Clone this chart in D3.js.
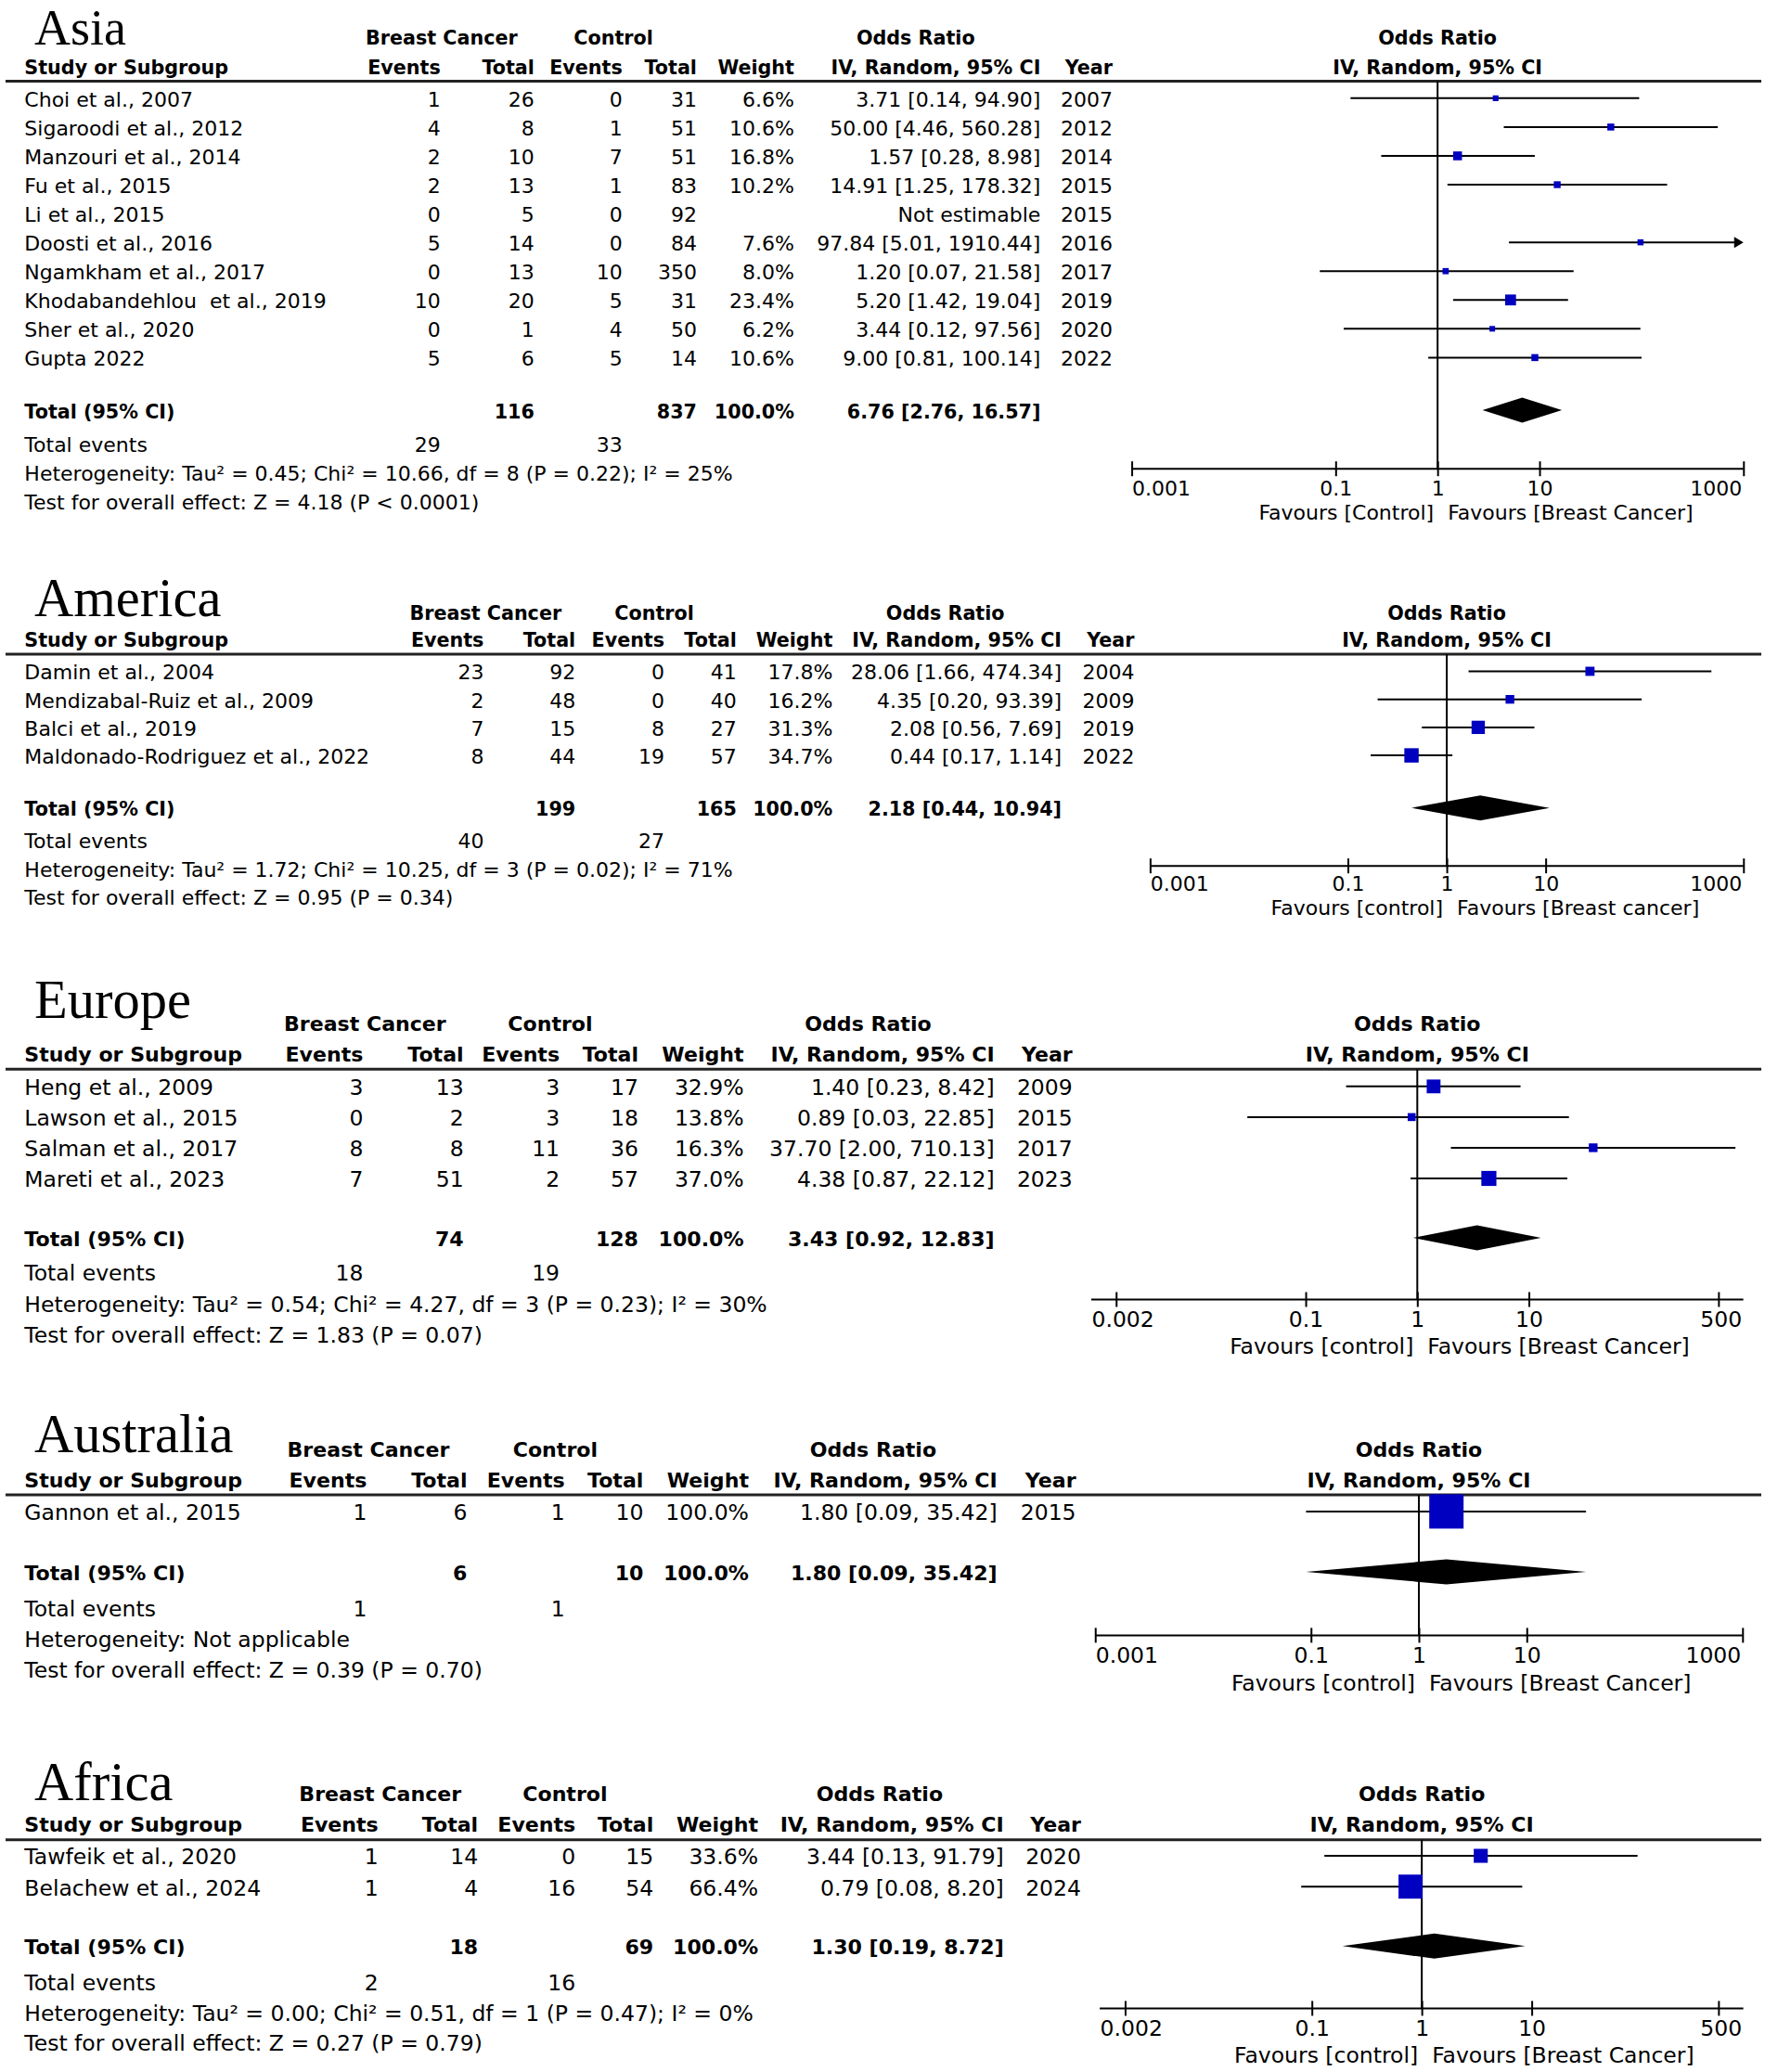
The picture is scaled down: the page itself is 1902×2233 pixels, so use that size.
<!DOCTYPE html>
<html>
<head>
<meta charset="utf-8">
<script src="https://cdn.jsdelivr.net/npm/d3@7"></script>
<style>
  body { margin: 0; background: #fff; }
  svg { display: block; }
  text { font-family: "DejaVu Sans", sans-serif; fill: #000; white-space: pre; }
  .title { font-family: "Liberation Serif", serif; }
</style>
</head>
<body>
<script>
// ---- data: [study, bc events, bc total, ctrl events, ctrl total, weight %, OR, lower, upper, year]
const asiaRows = [
  ["Choi et al., 2007", 1, 26, 0, 31, 6.6, 3.71, 0.14, 94.90, 2007],
  ["Sigaroodi et al., 2012", 4, 8, 1, 51, 10.6, 50.00, 4.46, 560.28, 2012],
  ["Manzouri et al., 2014", 2, 10, 7, 51, 16.8, 1.57, 0.28, 8.98, 2014],
  ["Fu et al., 2015", 2, 13, 1, 83, 10.2, 14.91, 1.25, 178.32, 2015],
  ["Li et al., 2015", 0, 5, 0, 92, null, null, null, null, 2015],
  ["Doosti et al., 2016", 5, 14, 0, 84, 7.6, 97.84, 5.01, 1910.44, 2016],
  ["Ngamkham et al., 2017", 0, 13, 10, 350, 8.0, 1.20, 0.07, 21.58, 2017],
  ["Khodabandehlou  et al., 2019", 10, 20, 5, 31, 23.4, 5.20, 1.42, 19.04, 2019],
  ["Sher et al., 2020", 0, 1, 4, 50, 6.2, 3.44, 0.12, 97.56, 2020],
  ["Gupta 2022", 5, 6, 5, 14, 10.6, 9.00, 0.81, 100.14, 2022]
];
const asiaTotal = [116, 837, 6.76, 2.76, 16.57];
const asiaEvents = [29, 33];
const asiaHet = "Heterogeneity: Tau² = 0.45; Chi² = 10.66, df = 8 (P = 0.22); I² = 25%";
const asiaTest = "Test for overall effect: Z = 4.18 (P < 0.0001)";
const asiaTicks = [0.001, 0.1, 1, 10, 1000];
const asiaTickLabels = ["0.001", "0.1", "1", "10", "1000"];
const asiaFavours = ["Favours [Control]", "Favours [Breast Cancer]"];

const americaRows = [
  ["Damin et al., 2004", 23, 92, 0, 41, 17.8, 28.06, 1.66, 474.34, 2004],
  ["Mendizabal-Ruiz et al., 2009", 2, 48, 0, 40, 16.2, 4.35, 0.20, 93.39, 2009],
  ["Balci et al., 2019", 7, 15, 8, 27, 31.3, 2.08, 0.56, 7.69, 2019],
  ["Maldonado-Rodriguez et al., 2022", 8, 44, 19, 57, 34.7, 0.44, 0.17, 1.14, 2022]
];
const americaTotal = [199, 165, 2.18, 0.44, 10.94];
const americaEvents = [40, 27];
const americaHet = "Heterogeneity: Tau² = 1.72; Chi² = 10.25, df = 3 (P = 0.02); I² = 71%";
const americaTest = "Test for overall effect: Z = 0.95 (P = 0.34)";
const americaTicks = [0.001, 0.1, 1, 10, 1000];
const americaTickLabels = ["0.001", "0.1", "1", "10", "1000"];
const americaFavours = ["Favours [control]", "Favours [Breast cancer]"];

const europeRows = [
  ["Heng et al., 2009", 3, 13, 3, 17, 32.9, 1.40, 0.23, 8.42, 2009],
  ["Lawson et al., 2015", 0, 2, 3, 18, 13.8, 0.89, 0.03, 22.85, 2015],
  ["Salman et al., 2017", 8, 8, 11, 36, 16.3, 37.70, 2.00, 710.13, 2017],
  ["Mareti et al., 2023", 7, 51, 2, 57, 37.0, 4.38, 0.87, 22.12, 2023]
];
const europeTotal = [74, 128, 3.43, 0.92, 12.83];
const europeEvents = [18, 19];
const europeHet = "Heterogeneity: Tau² = 0.54; Chi² = 4.27, df = 3 (P = 0.23); I² = 30%";
const europeTest = "Test for overall effect: Z = 1.83 (P = 0.07)";
const europeTicks = [0.002, 0.1, 1, 10, 500];
const europeTickLabels = ["0.002", "0.1", "1", "10", "500"];
const europeFavours = ["Favours [control]", "Favours [Breast Cancer]"];

const australiaRows = [
  ["Gannon et al., 2015", 1, 6, 1, 10, 100.0, 1.80, 0.09, 35.42, 2015]
];
const australiaTotal = [6, 10, 1.80, 0.09, 35.42];
const australiaEvents = [1, 1];
const australiaHet = "Heterogeneity: Not applicable";
const australiaTest = "Test for overall effect: Z = 0.39 (P = 0.70)";
const australiaTicks = [0.001, 0.1, 1, 10, 1000];
const australiaTickLabels = ["0.001", "0.1", "1", "10", "1000"];
const australiaFavours = ["Favours [control]", "Favours [Breast Cancer]"];

const africaRows = [
  ["Tawfeik et al., 2020", 1, 14, 0, 15, 33.6, 3.44, 0.13, 91.79, 2020],
  ["Belachew et al., 2024", 1, 4, 16, 54, 66.4, 0.79, 0.08, 8.20, 2024]
];
const africaTotal = [18, 69, 1.30, 0.19, 8.72];
const africaEvents = [2, 16];
const africaHet = "Heterogeneity: Tau² = 0.00; Chi² = 0.51, df = 1 (P = 0.47); I² = 0%";
const africaTest = "Test for overall effect: Z = 0.27 (P = 0.79)";
const africaTicks = [0.002, 0.1, 1, 10, 500];
const africaTickLabels = ["0.002", "0.1", "1", "10", "500"];
const africaFavours = ["Favours [control]", "Favours [Breast Cancer]"];

const colHeads = ["Events", "Total", "Events", "Total", "Weight", "IV, Random, 95% CI", "Year"];

// ---- layout (units of the 1335px wide reference, scaled by S)
const W = 1902, H = 2233, S = 1902 / 1335;

const layouts = [
  { font: 22, title: 34, titleSize: 54, head1: 28.7, head2: 50.8, rule: 61.5, row0: 75, step: 21.8,
    total: 311, events: 336.5, het: 358, test: 379.5,
    cols: [333.2, 404.2, 470.8, 527.1, 600.8, 787.1, 841.5], bc: 334, ctrl: 464, or: 692.6,
    axisY: 354.6, tickLab: 369, fav: 387.7, tick0: 856, tick1: 1318.7, line0: 856, line1: 1318.7 },
  { font: 22, title: 466, titleSize: 58.5, head1: 463.3, head2: 483.8, rule: 494.8, row0: 508.5, step: 21.2,
    total: 611.8, events: 635.9, het: 657.9, test: 678.5,
    cols: [366, 435.3, 502.6, 557.2, 629.8, 803, 858], bc: 367.3, ctrl: 494.9, or: 715,
    axisY: 655, tickLab: 668, fav: 686.7, tick0: 869.9, tick1: 1318.7, line0: 869.9, line1: 1318.7 },
  { font: 23.5, title: 770, titleSize: 58.5, head1: 774, head2: 797.4, rule: 808.8, row0: 822.5, step: 23.2,
    total: 937, events: 962.8, het: 986.2, test: 1009.6,
    cols: [274.7, 350.7, 423.3, 482.9, 562.6, 752.2, 811.2], bc: 276.1, ctrl: 416.2, or: 656.6,
    axisY: 983, tickLab: 998, fav: 1018.2, tick0: 844.2, tick1: 1299.8, line0: 825.4, line1: 1318.6 },
  { font: 23.5, title: 1098.5, titleSize: 58.5, head1: 1096.1, head2: 1119.5, rule: 1130.8, row0: 1144, step: 23.3,
    total: 1189.7, events: 1216.6, het: 1240, test: 1263.4,
    cols: [277.5, 353.4, 427.2, 486.7, 566.4, 754.3, 813.9], bc: 278.6, ctrl: 420, or: 660.4,
    axisY: 1237, tickLab: 1251.7, fav: 1272.8, tick0: 828.4, tick1: 1318, line0: 828.4, line1: 1318 },
  { font: 23.5, title: 1361.7, titleSize: 58.5, head1: 1357, head2: 1380, rule: 1391.6, row0: 1404.5, step: 23.3,
    total: 1472.8, events: 1499.7, het: 1523.1, test: 1545.4,
    cols: [286.2, 361.6, 435.3, 494.3, 573.5, 759.3, 817.7], bc: 287.6, ctrl: 427.4, or: 665.3,
    axisY: 1519.2, tickLab: 1533.7, fav: 1554.7, tick0: 851, tick1: 1299.8, line0: 831.8, line1: 1318.6 }
];

const regions = [
  { name: "Asia", rows: asiaRows, total: asiaTotal, events: asiaEvents, het: asiaHet, test: asiaTest, ticks: asiaTicks, tickLabels: asiaTickLabels, favours: asiaFavours },
  { name: "America", rows: americaRows, total: americaTotal, events: americaEvents, het: americaHet, test: americaTest, ticks: americaTicks, tickLabels: americaTickLabels, favours: americaFavours },
  { name: "Europe", rows: europeRows, total: europeTotal, events: europeEvents, het: europeHet, test: europeTest, ticks: europeTicks, tickLabels: europeTickLabels, favours: europeFavours },
  { name: "Australia", rows: australiaRows, total: australiaTotal, events: australiaEvents, het: australiaHet, test: australiaTest, ticks: australiaTicks, tickLabels: australiaTickLabels, favours: australiaFavours },
  { name: "Africa", rows: africaRows, total: africaTotal, events: africaEvents, het: africaHet, test: africaTest, ticks: africaTicks, tickLabels: africaTickLabels, favours: africaFavours }
];

const f2 = d3.format(".2f"), f1 = d3.format(".1f");
const orText = (or, lo, hi) => or == null ? "Not estimable" : `${f2(or)} [${f2(lo)}, ${f2(hi)}]`;
const blue = "#0000c0";

const svg = d3.select("body").append("svg")
  .attr("width", W)
  .attr("height", H);

const px = (v) => v * S;

const drawRegion = (d, L) => {
  const g = svg.append("g");
  const fs = L.font, fb = L.font * 0.94;
  const nameX = px(18.5);

  const x = d3.scaleLog()
    .domain([d.ticks[0], d.ticks[d.ticks.length - 1]])
    .range([px(L.tick0), px(L.tick1)]);
  const xMin = px(L.line0), xMax = px(L.line1);
  const side = d3.scaleLinear().domain([0, 100]).range([4, 37]);

  const label = (str, xv, yv, anchor, bold) => g.append("text")
    .attr("x", xv)
    .attr("y", px(yv))
    .attr("dy", "0.36em")
    .attr("text-anchor", anchor)
    .style("font-size", (bold ? fb : fs) + "px")
    .style("font-weight", bold ? "bold" : "normal")
    .text(str);

  // region title
  g.append("text")
    .attr("class", "title")
    .attr("x", px(26))
    .attr("y", px(L.title))
    .style("font-size", L.titleSize + "px")
    .text(d.name);

  // column headers
  label("Breast Cancer", px(L.bc), L.head1, "middle", true);
  label("Control", px(L.ctrl), L.head1, "middle", true);
  label("Odds Ratio", px(L.or), L.head1, "middle", true);
  label("Odds Ratio", x(1), L.head1, "middle", true);
  label("Study or Subgroup", nameX, L.head2, "start", true);
  colHeads.forEach((h, i) => label(h, px(L.cols[i]), L.head2, "end", true));
  label("IV, Random, 95% CI", x(1), L.head2, "middle", true);

  g.append("line")
    .attr("x1", 6).attr("x2", W - 4)
    .attr("y1", px(L.rule)).attr("y2", px(L.rule))
    .attr("stroke", "#222").attr("stroke-width", 3);

  // line of no effect
  g.append("line")
    .attr("x1", x(1)).attr("x2", x(1))
    .attr("y1", px(L.rule)).attr("y2", px(L.axisY))
    .attr("stroke", "#000").attr("stroke-width", 2);

  // study rows
  d.rows.forEach((r, i) => {
    const y = L.row0 + i * L.step;
    label(r[0], nameX, y, "start");
    const vals = [r[1], r[2], r[3], r[4], r[5] == null ? "" : f1(r[5]) + "%", orText(r[6], r[7], r[8]), r[9]];
    vals.forEach((v, j) => label(v, px(L.cols[j]), y, "end"));

    if (r[6] == null) return;
    const yy = px(y) - 1;
    const over = x(r[8]) > xMax;
    const xr = over ? xMax - 9 : x(r[8]);
    g.append("line")
      .attr("x1", Math.max(x(r[7]), xMin)).attr("x2", xr)
      .attr("y1", yy).attr("y2", yy)
      .attr("stroke", "#000").attr("stroke-width", 2);
    if (over) {
      g.append("path")
        .attr("d", `M${xMax - 10},${yy - 6}L${xMax},${yy}L${xMax - 10},${yy + 6}Z`)
        .attr("fill", "#000");
    }
    const s = side(r[5]);
    g.append("rect")
      .attr("x", x(r[6]) - s / 2)
      .attr("y", yy - s / 2)
      .attr("width", s)
      .attr("height", s)
      .attr("fill", blue);
  });

  // total row
  label("Total (95% CI)", nameX, L.total, "start", true);
  label(d.total[0], px(L.cols[1]), L.total, "end", true);
  label(d.total[1], px(L.cols[3]), L.total, "end", true);
  label("100.0%", px(L.cols[4]), L.total, "end", true);
  label(orText(d.total[2], d.total[3], d.total[4]), px(L.cols[5]), L.total, "end", true);

  const dy = px(L.total) - 1, dh = 13.5;
  g.append("path")
    .attr("d", `M${x(d.total[3])},${dy}L${x(d.total[2])},${dy - dh}L${x(d.total[4])},${dy}L${x(d.total[2])},${dy + dh}Z`)
    .attr("fill", "#000");

  label("Total events", nameX, L.events, "start");
  label(d.events[0], px(L.cols[0]), L.events, "end");
  label(d.events[1], px(L.cols[2]), L.events, "end");
  label(d.het, nameX, L.het, "start");
  label(d.test, nameX, L.test, "start");

  // log axis
  const axis = d3.axisBottom(x)
    .tickValues(d.ticks)
    .tickFormat((t, i) => d.tickLabels[i])
    .tickSize(0)
    .tickPadding(0);

  const ag = g.append("g")
    .attr("transform", `translate(0,${px(L.axisY)})`)
    .call(axis);
  ag.select(".domain").remove();
  ag.append("line")
    .attr("x1", xMin).attr("x2", xMax)
    .attr("stroke", "#000").attr("stroke-width", 2);
  ag.selectAll(".tick").append("line")
    .attr("y1", -8).attr("y2", 8)
    .attr("stroke", "#000").attr("stroke-width", 2);
  const n = d.ticks.length;
  ag.selectAll(".tick text")
    .attr("y", px(L.tickLab - L.axisY))
    .attr("dy", "0.36em")
    .style("font-size", fs + "px")
    .each(function (t, i) {
      if (i === 0) d3.select(this).attr("text-anchor", "start").attr("x", xMin - x(t));
      if (i === n - 1) d3.select(this).attr("text-anchor", "end").attr("x", xMax - x(t) - 2);
    });

  label(d.favours[0], x(1) - 4, L.fav, "end");
  label(d.favours[1], x(1) + 11, L.fav, "start");
};

regions.forEach((r, i) => drawRegion(r, layouts[i]));
</script>
</body>
</html>
